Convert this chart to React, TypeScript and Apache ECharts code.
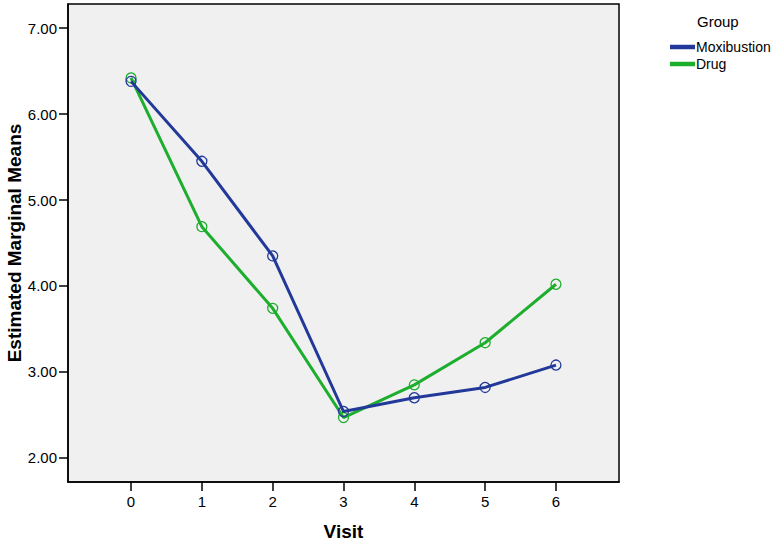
import React, { useEffect, useRef } from "react";
import * as echarts from "echarts";

const visits = [0, 1, 2, 3, 4, 5, 6];
const moxibustion = [6.38, 5.45, 4.35, 2.54, 2.7, 2.82, 3.08];
const drug = [6.42, 4.69, 3.74, 2.47, 2.85, 3.34, 4.02];
const yTicks = [2, 3, 4, 5, 6, 7];
const seriesNames = ["Moxibustion", "Drug"];
const colors = ["#22399A", "#1DAE2E"];
const yTitle = "Estimated Marginal Means";

export default function App() {
  const ref = useRef<HTMLDivElement>(null);
  useEffect(() => {
    document.body.style.margin = "0";
    const chart = echarts.init(ref.current!, null, { renderer: "svg" });
    const font = "Arial, 'Liberation Sans', sans-serif";
    chart.setOption({
      animation: false,
      backgroundColor: "#ffffff",
      textStyle: { fontFamily: font },
      grid: {
        left: 68,
        top: 4,
        right: 159,
        bottom: 63,
        show: true,
        backgroundColor: "#F0F0F0",
        borderColor: "#000000",
        borderWidth: 1.5,
        containLabel: false,
        outerBoundsMode: "none",
      },
      legend: {
        orient: "vertical",
        left: 665,
        top: 35,
        icon: "rect",
        itemWidth: 23,
        itemHeight: 2.5,
        itemGap: 3,
        data: seriesNames.map((n, i) => ({ name: n, itemStyle: { color: colors[i] } })),
        textStyle: { fontSize: 14, color: "#000", fontFamily: font, padding: [0, 0, 0, -3] },
      },
      graphic: [
        {
          type: "text",
          left: 697,
          top: 14,
          style: { text: "Group", fill: "#000", font: `15px ${font}` },
        },
        {
          type: "text",
          x: 14,
          y: 243,
          rotation: Math.PI / 2,
          style: {
            text: yTitle,
            fill: "#000",
            font: `bold 19px ${font}`,
            align: "center",
            verticalAlign: "middle",
          },
        },
      ],
      xAxis: {
        type: "value",
        min: -0.89,
        max: 6.89,
        name: "Visit",
        nameLocation: "middle",
        nameGap: 40,
        nameTextStyle: { fontSize: 19, fontWeight: "bold", color: "#000", fontFamily: font },
        axisLine: { show: true, onZero: false, lineStyle: { color: "#000", width: 1.5 } },
        axisTick: { show: true, inside: false, length: 9, customValues: visits, lineStyle: { color: "#000", width: 1.5 } },
        axisLabel: {
          customValues: visits,
          fontSize: 15,
          color: "#000",
          margin: 12,
          formatter: (v: number) => String(v),
        },
        splitLine: { show: false },
      },
      yAxis: {
        type: "value",
        min: 1.72,
        max: 7.28,
        axisLine: { show: true, onZero: false, lineStyle: { color: "#000", width: 1.5 } },
        axisTick: { show: true, inside: false, length: 9, customValues: yTicks, lineStyle: { color: "#000", width: 1.5 } },
        axisLabel: {
          customValues: yTicks,
          fontSize: 15,
          color: "#000",
          margin: 11,
          formatter: (v: number) => v.toFixed(2),
        },
        splitLine: { show: false },
      },
      series: [
        {
          name: seriesNames[0],
          type: "line",
          data: visits.map((v, i) => [v, moxibustion[i]]),
          symbol: "circle",
          symbolSize: 10,
          color: colors[0],
          lineStyle: { width: 3, color: colors[0] },
          itemStyle: { color: "transparent", borderColor: colors[0], borderWidth: 1.3 },
          z: 3,
        },
        {
          name: seriesNames[1],
          type: "line",
          data: visits.map((v, i) => [v, drug[i]]),
          symbol: "circle",
          symbolSize: 10,
          color: colors[1],
          lineStyle: { width: 3, color: colors[1] },
          itemStyle: { color: "transparent", borderColor: colors[1], borderWidth: 1.3 },
          z: 2,
        },
      ],
    });
    return () => chart.dispose();
  }, []);
  return <div ref={ref} style={{ width: 778, height: 545 }} />;
}
